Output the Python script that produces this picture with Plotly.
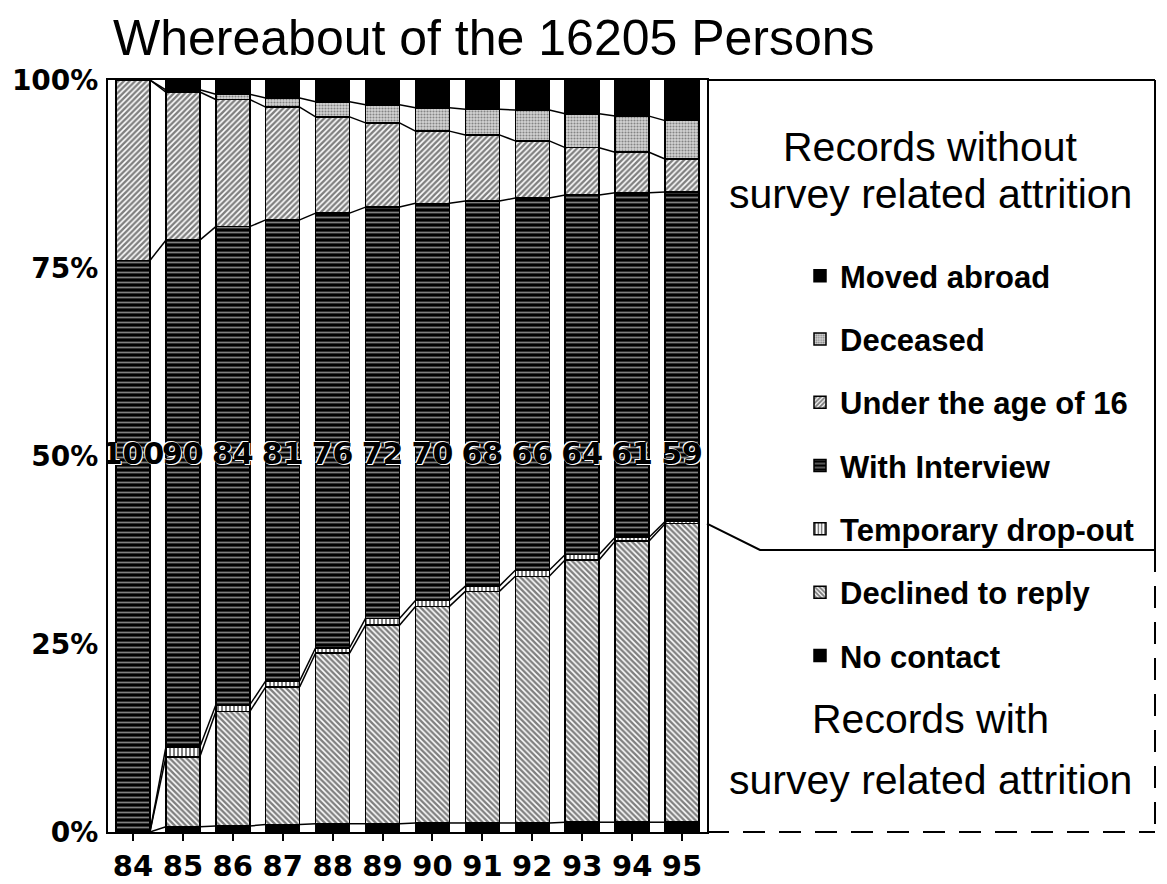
import plotly.graph_objects as go

years = ["84", "85", "86", "87", "88", "89", "90", "91", "92", "93", "94", "95"]
bar_labels = ["100", "90", "84", "81", "76", "72", "70", "68", "66", "64", "61", "59"]
y_ticks = [0, 25, 50, 75, 100]
y_ticklabels = ["0%", "25%", "50%", "75%", "100%"]

no_contact = [0.0, 0.7, 0.8, 1.0, 1.1, 1.1, 1.2, 1.2, 1.2, 1.3, 1.3, 1.3]
declined = [0.0, 9.3, 15.2, 18.3, 22.7, 26.4, 28.8, 30.8, 32.8, 34.9, 37.4, 39.7]
temp_drop = [0.0, 1.3, 0.9, 0.8, 0.7, 0.9, 0.8, 0.7, 0.8, 0.7, 0.5, 0.3]
interview = [76.0, 67.4, 63.6, 61.3, 57.8, 54.7, 52.8, 51.2, 49.5, 47.8, 45.8, 43.8]
under16 = [24.0, 19.7, 16.9, 15.0, 12.8, 11.2, 9.6, 8.8, 7.6, 6.3, 5.4, 4.4]
deceased = [0.0, 0.3, 0.7, 1.2, 2.0, 2.4, 3.1, 3.4, 4.1, 4.5, 4.8, 5.1]
moved_abroad = [0.0, 1.3, 2.0, 2.4, 2.9, 3.3, 3.6, 3.9, 4.0, 4.4, 4.9, 5.3]

series = [
    ("No contact", no_contact, dict(color="black")),
    ("Declined to reply", declined, dict(color="white", pattern=dict(shape="\\", fgcolor="black", bgcolor="white", size=4, solidity=0.6))),
    ("Temporary drop-out", temp_drop, dict(color="white", pattern=dict(shape="|", fgcolor="black", bgcolor="white", size=4, solidity=0.5))),
    ("With Interview", interview, dict(color="black", pattern=dict(shape="-", fgcolor="white", bgcolor="black", size=5, solidity=0.35))),
    ("Under the age of 16", under16, dict(color="white", pattern=dict(shape="/", fgcolor="black", bgcolor="white", size=4, solidity=0.6))),
    ("Deceased", deceased, dict(color="#c8c8c8", pattern=dict(shape=".", fgcolor="#333333", bgcolor="#d4d4d4", size=3, solidity=0.4))),
    ("Moved abroad", moved_abroad, dict(color="black")),
]

x = list(range(len(years)))
W = 0.68
fig = go.Figure()
n = len(series)
for i, (name, vals, mk) in enumerate(series):
    mk = dict(mk)
    mk["line"] = dict(color="black", width=1.5)
    fig.add_trace(go.Bar(x=x, y=vals, name=name, width=W, marker=mk,
                         legendgroup=f"g{i}", legendrank=100 * (n - i), hoverinfo="skip"))

# connecting lines between stack boundaries
cum = [0.0] * len(years)
bounds = []
for name, vals, mk in series[:-1]:
    cum = [c + v for c, v in zip(cum, vals)]
    bounds.append(list(cum))
for b in bounds:
    lx, ly = [], []
    for i in range(len(years) - 1):
        lx += [x[i] + W / 2, x[i + 1] - W / 2, None]
        ly += [b[i], b[i + 1], None]
    fig.add_trace(go.Scatter(x=lx, y=ly, mode="lines", line=dict(color="black", width=1.5),
                             showlegend=False, hoverinfo="skip"))

fig.add_trace(go.Scatter(x=x, y=[50] * len(x), mode="text", text=bar_labels,
                         textfont=dict(family="DejaVu Sans", size=30, color="black",
                                       weight="bold", shadow="1px 1px 0 white, -1px -1px 0 white"),
                         showlegend=False, hoverinfo="skip"))

# page body has an 8px margin: figure is sized to fit the window
OFF = 8
FW, FH = 1167 - OFF, 884 - OFF
# plot area in screenshot pixels
PL, PR, PT, PB = 108, 707, 80, 832
PW, PH = PR - PL, PB - PT
def px(v):
    return (v - PL) / PW
def py(v):
    return (PB - v) / PH

right = px(1155)
sep_y = py(550)
decl_top = bounds[1][-1] / 100.0
dash = "22px,14px"
shapes = [
    dict(type="line", xref="paper", yref="paper", x0=1, x1=right, y0=1, y1=1, line=dict(color="black", width=2)),
    dict(type="line", xref="paper", yref="paper", x0=right, x1=right, y0=1, y1=sep_y, line=dict(color="black", width=2)),
    dict(type="line", xref="paper", yref="paper", x0=right, x1=right, y0=sep_y, y1=0, line=dict(color="black", width=2, dash=dash)),
    dict(type="line", xref="paper", yref="paper", x0=1, x1=right, y0=0, y1=0, line=dict(color="black", width=2, dash=dash)),
    dict(type="path", xref="paper", yref="paper",
         path=f"M 1 {decl_top} L {px(760)} {sep_y} L {right} {sep_y}", line=dict(color="black", width=2)),
]

cx = px(930)
ann_font = dict(family="Liberation Sans, Arial", size=41, color="black")
annotations = [
    dict(text="Records without", x=cx, y=py(147), xanchor="center", yanchor="middle",
         xref="paper", yref="paper", showarrow=False, font=ann_font),
    dict(text="survey related attrition", x=cx, y=py(194), xanchor="center", yanchor="middle",
         xref="paper", yref="paper", showarrow=False, font=ann_font),
    dict(text="Records with", x=cx, y=py(719), xanchor="center", yanchor="middle",
         xref="paper", yref="paper", showarrow=False, font=ann_font),
    dict(text="survey related attrition", x=cx, y=py(780), xanchor="center", yanchor="middle",
         xref="paper", yref="paper", showarrow=False, font=ann_font),
]

fig.update_layout(
    width=FW, height=FH,
    margin=dict(l=PL - OFF, r=FW - (PR - OFF), t=PT - OFF, b=FH - (PB - OFF), autoexpand=False),
    paper_bgcolor="white", plot_bgcolor="white",
    barmode="stack", bargap=0.3,
    title=dict(text="Whereabout of the 16205 Persons", x=(113 - OFF) / FW, xanchor="left",
               y=1 - (37 - OFF) / FH, yanchor="middle",
               font=dict(family="Liberation Sans, Arial", size=50, color="black")),
    xaxis=dict(tickmode="array", tickvals=x, ticktext=years, range=[-0.5, len(years) - 0.5],
               showline=True, linecolor="black", linewidth=2, mirror=True, automargin=False,
               ticks="outside", ticklen=7, tickwidth=1.5, tickcolor="black", showgrid=False, zeroline=False,
               tickfont=dict(family="DejaVu Sans", size=29, color="black", weight="bold")),
    yaxis=dict(range=[0, 100], tickmode="array", tickvals=y_ticks, ticktext=y_ticklabels,
               showline=True, linecolor="black", linewidth=2, mirror=True, automargin=False,
               ticks="", showgrid=False, zeroline=False, ticklabelstandoff=2,
               tickfont=dict(family="DejaVu Sans", size=28, color="black", weight="bold")),
    legend=dict(x=px(800), y=py(249), xanchor="left", yanchor="top",
                traceorder="grouped", tracegroupgap=20,
                font=dict(family="Liberation Sans, Arial", size=31, color="black", weight="bold"),
                bgcolor="rgba(0,0,0,0)", itemwidth=30),
    shapes=shapes, annotations=annotations,
)

fig.write_html("out.html")
